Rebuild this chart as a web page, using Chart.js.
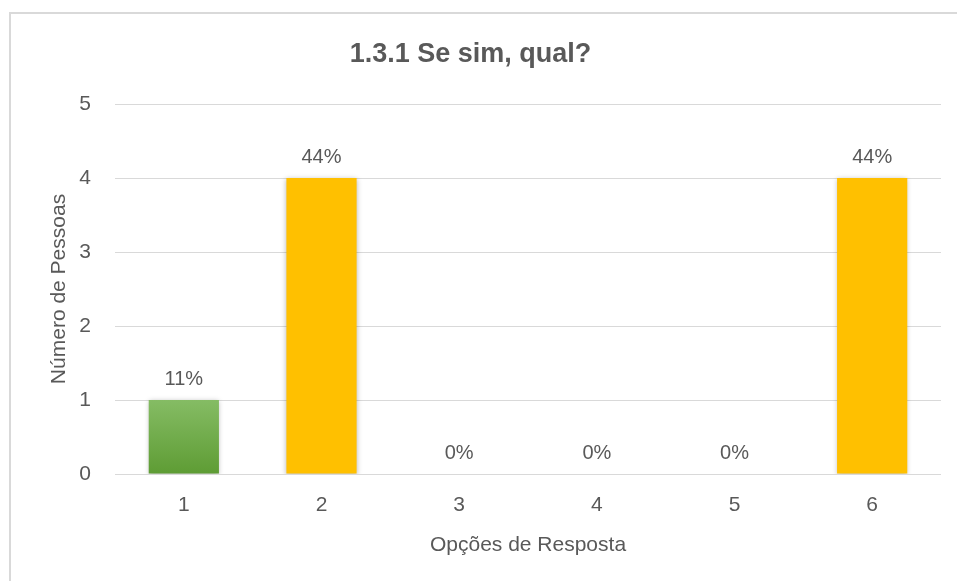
<!DOCTYPE html>
<html>
<head>
<meta charset="utf-8">
<script src="https://cdn.jsdelivr.net/npm/chart.js@4"></script>
<style>
  html, body { margin: 0; padding: 0; background: #ffffff; }
  #wrap { position: relative; width: 957px; height: 581px; overflow: hidden; }
  #frame { position: absolute; left: 9px; top: 12px; width: 1000px; height: 700px;
           border-left: 2px solid #d9d9d9; border-top: 2px solid #d9d9d9; pointer-events: none; }
  canvas { position: absolute; left: 0; top: 0; }
</style>
</head>
<body>
<div id="wrap">
  <canvas id="c" width="957" height="581"></canvas>
  <div id="frame"></div>
</div>
<script>
const chartTitle = "1.3.1 Se sim, qual?";
const categories = ["1", "2", "3", "4", "5", "6"];
const counts = [1, 4, 0, 0, 0, 4];
const yTicks = [0, 1, 2, 3, 4, 5];
const xAxisTitle = "Opções de Resposta";
const yAxisTitle = "Número de Pessoas";

const total = counts.reduce((a, b) => a + b, 0);
const pctLabels = counts.map(v => Math.round(v / total * 100) + "%");

const TXT = "#595959";
const FONT = "'Liberation Sans', Arial, sans-serif";

function barColor(ctx) {
  const chart = ctx.chart;
  if (ctx.dataIndex === 0) {
    const area = chart.chartArea;
    if (!area) return "#70ad47";
    const el = chart.getDatasetMeta(0).data[0];
    const top = el && el.y !== undefined ? el.y : area.bottom - 74;
    const g = chart.ctx.createLinearGradient(0, top, 0, area.bottom);
    g.addColorStop(0, "#85bc64");
    g.addColorStop(1, "#5e9c34");
    return g;
  }
  return "#ffc000";
}

const shadowPlugin = {
  id: "barShadow",
  beforeDatasetsDraw(chart) {
    const c = chart.ctx;
    c.save();
    c.shadowColor = "rgba(0,0,0,0.28)";
    c.shadowBlur = 5;
    c.shadowOffsetX = 0;
    c.shadowOffsetY = 1;
  },
  afterDatasetsDraw(chart) {
    chart.ctx.restore();
  }
};

const labelPlugin = {
  id: "pctLabels",
  afterDatasetsDraw(chart) {
    const c = chart.ctx;
    const meta = chart.getDatasetMeta(0);
    c.save();
    c.font = "20px " + FONT;
    c.fillStyle = TXT;
    c.textAlign = "center";
    c.textBaseline = "middle";
    meta.data.forEach((el, i) => {
      c.fillText(pctLabels[i], el.x, el.y - 21);
    });
    c.restore();
  }
};

new Chart(document.getElementById("c"), {
  type: "bar",
  data: {
    labels: categories,
    datasets: [{
      data: counts,
      backgroundColor: barColor,
      borderWidth: 0,
      barPercentage: 0.51,
      categoryPercentage: 1.0
    }]
  },
  options: {
    responsive: false,
    animation: false,
    events: [],
    layout: { padding: { left: 0, right: 16, top: 0, bottom: 0 } },
    plugins: {
      legend: { display: false },
      tooltip: { enabled: false },
      title: {
        display: true,
        text: chartTitle,
        color: TXT,
        font: { family: FONT, size: 27, weight: "bold", lineHeight: 1.2 },
        padding: { top: 38, bottom: 33.6 }
      }
    },
    scales: {
      x: {
        grid: { display: false },
        border: { display: false },
        ticks: { color: TXT, font: { family: FONT, size: 21 }, padding: 11, maxRotation: 0 },
        title: { display: true, text: xAxisTitle, color: TXT,
                 font: { family: FONT, size: 21, lineHeight: 1.2 }, padding: { top: 0, bottom: 23 } },
        afterFit(scale) { scale.height = 107; }
      },
      y: {
        min: 0, max: 5,
        afterBuildTicks(scale) { scale.ticks = yTicks.map(v => ({ value: v })); },
        grid: { color: "#d9d9d9", lineWidth: 1, drawTicks: false },
        border: { display: false },
        ticks: { color: TXT, font: { family: FONT, size: 21 }, padding: 24 },
        title: { display: true, text: yAxisTitle, color: TXT,
                 font: { family: FONT, size: 21, lineHeight: 1.2 }, padding: { top: 47, bottom: 0 } },
        afterFit(scale) { scale.width = 115; }
      }
    }
  },
  plugins: [shadowPlugin, labelPlugin]
});
</script>
</body>
</html>
